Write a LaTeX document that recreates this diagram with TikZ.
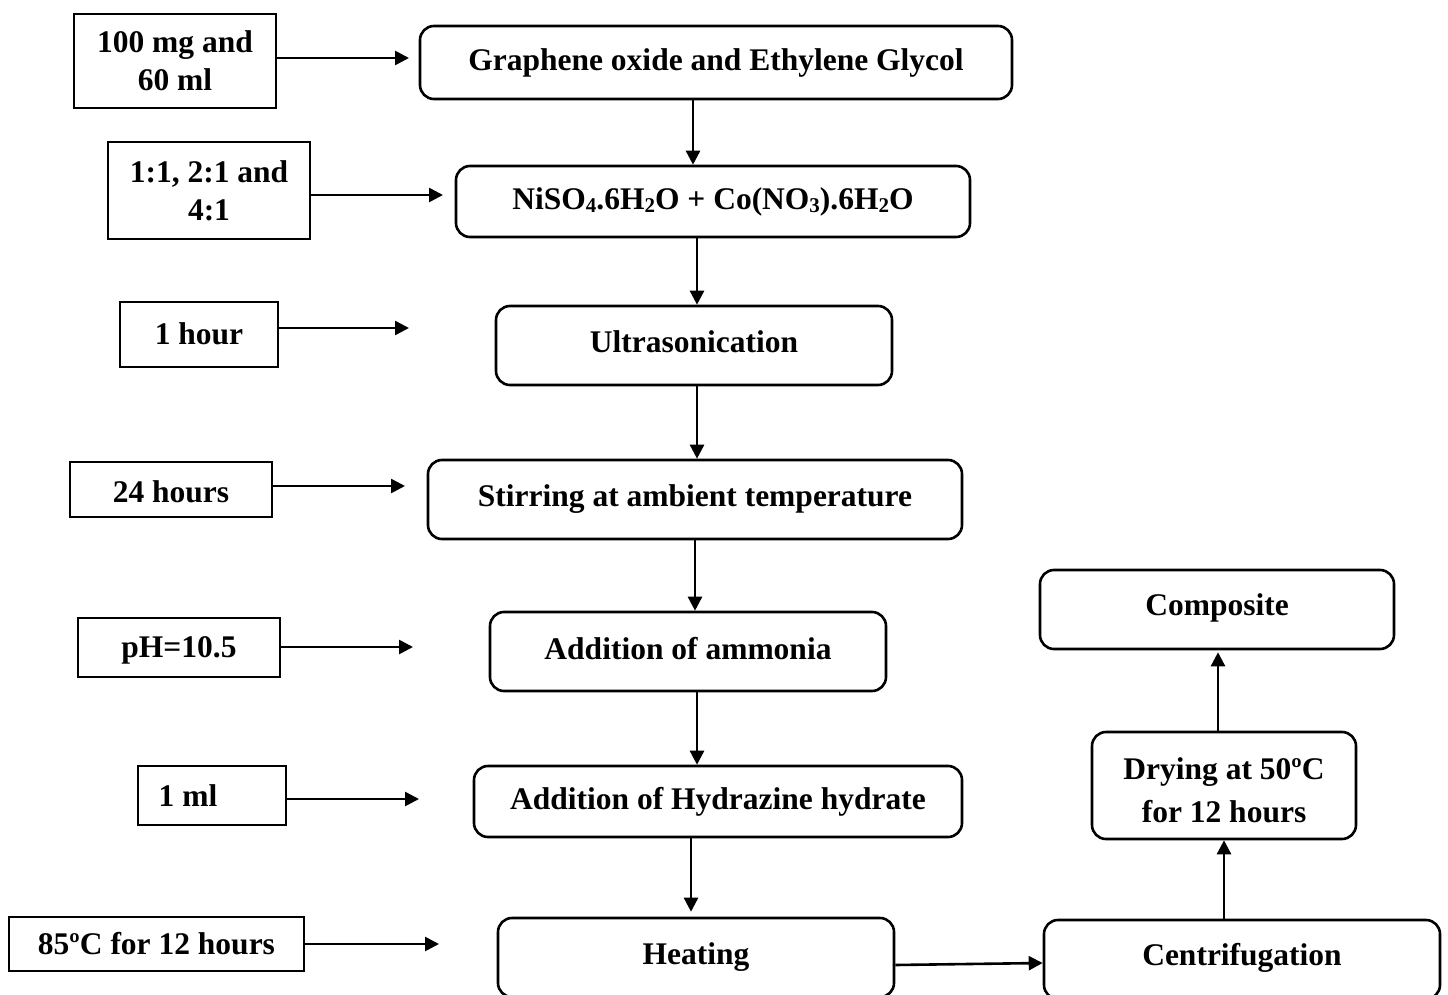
\documentclass[tikz,border=0pt]{standalone}
\usepackage{fontspec}
\setmainfont{Liberation Serif}
\usetikzlibrary{arrows.meta}

\newcommand{\nudge}[2]{\raisebox{#1}[\height][\depth]{#2}}
\newcommand{\chemsub}[1]{\raisebox{-0.12em}{\fontsize{21}{21}\selectfont #1}}

\tikzset{
  step box/.style={draw, line width=2.6pt, rounded corners=14pt, align=center, inner sep=0pt},
  cond box/.style={draw, line width=2.6pt, align=center, inner sep=0pt},
  flow/.style={line width=2.6pt, -{Triangle[length=14pt,width=14pt]}}
}

\begin{document}
\begin{tikzpicture}[x=1pt,y=-1pt,font=\fontsize{31.5}{38}\selectfont\bfseries]

\useasboundingbox (0,0) rectangle (1448,995);

% main steps
\node[step box, minimum width=592, minimum height=73] (go) at (716,62.5) {Graphene oxide and Ethylene Glycol};
\node[step box, minimum width=514, minimum height=71] (salt) at (713,201.5) {NiSO\chemsub{4}.6H\chemsub{2}O + Co(NO\chemsub{3}).6H\chemsub{2}O};
\node[step box, minimum width=396, minimum height=79] (sono) at (694,345.5) {\nudge{4pt}{Ultrasonication}};
\node[step box, minimum width=534, minimum height=79] (stir) at (695,499.5) {Stirring at ambient temperature};
\node[step box, minimum width=396, minimum height=79] (nh3) at (688,651.5) {\nudge{3pt}{Addition of ammonia}};
\node[step box, minimum width=488, minimum height=71] (hyd) at (718,801.5) {Addition of Hydrazine hydrate};
\node[step box, minimum width=396, minimum height=79] (heat) at (696,957.5) {Heating};
\node[step box, minimum width=396, minimum height=79] (cent) at (1242,959.5) {\nudge{2pt}{Centrifugation}};
\node[step box, minimum width=264, minimum height=107] (dry) at (1224,785.5) {\nudge{-8pt}{\begin{tabular}{@{}c@{}}Drying at 50ºC\\[5pt]for 12 hours\end{tabular}}};
\node[step box, minimum width=354, minimum height=79] (comp) at (1217,609.5) {\nudge{2pt}{Composite}};

% conditions
\node[cond box, minimum width=202, minimum height=94] (c1) at (175,61) {100 mg and\\60 ml};
\node[cond box, minimum width=202, minimum height=97] (c2) at (209,190.5) {1:1, 2:1 and\\4:1};
\node[cond box, minimum width=158, minimum height=65] (c3) at (199,334.5) {\nudge{1pt}{1 hour}};
\node[cond box, minimum width=202, minimum height=55] (c4) at (171,489.5) {\nudge{-2pt}{24 hours}};
\node[cond box, minimum width=202, minimum height=59] (c5) at (179,647.5) {\nudge{-3pt}{pH=10.5}};
\node[cond box, minimum width=148, minimum height=59] (c6) at (212,795.5) {\hspace*{-48pt}1 ml};
\node[cond box, minimum width=295, minimum height=54] (c7) at (156.5,944) {85ºC for 12 hours};

% free arrow ends
\coordinate (e1) at (409,58);
\coordinate (e2) at (443,195);
\coordinate (e3) at (409,328);
\coordinate (e4) at (405,486);
\coordinate (e5) at (413,647);
\coordinate (e6) at (419,799);
\coordinate (e7) at (439,944);

\draw[flow] (c1.east |- e1) -- (e1);
\draw[flow] (c2.east |- e2) -- (e2);
\draw[flow] (c3.east |- e3) -- (e3);
\draw[flow] (c4.east |- e4) -- (e4);
\draw[flow] (c5.east |- e5) -- (e5);
\draw[flow] (c6.east |- e6) -- (e6);
\draw[flow] (c7.east |- e7) -- (e7);

\draw[flow] (go.south -| 693,0) -- (salt.north -| 693,0);
\draw[flow] (salt.south -| 697,0) -- (sono.north -| 697,0);
\draw[flow] (sono.south -| 697,0) -- (stir.north -| 697,0);
\draw[flow] (stir.south -| 695,0) -- (nh3.north -| 695,0);
\draw[flow] (nh3.south -| 697,0) -- (hyd.north -| 697,0);
\draw[flow, shorten >=5pt] (hyd.south -| 691,0) -- (heat.north -| 691,0);
\draw[flow] (heat.east |- 0,965) -- (cent.west |- 0,963);
\draw[flow] (cent.north -| 1224,0) -- (dry.south -| 1224,0);
\draw[flow, shorten >=2pt] (dry.north -| 1218,0) -- (comp.south -| 1218,0);

\end{tikzpicture}
\end{document}
